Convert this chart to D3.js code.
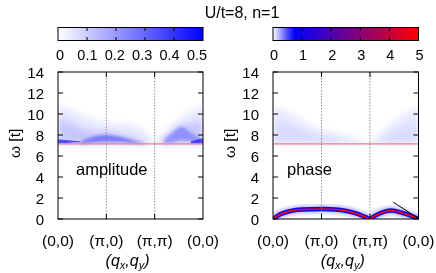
<!DOCTYPE html>
<html>
<head>
<meta charset="utf-8">
<script src="https://cdn.jsdelivr.net/npm/d3@7"></script>
<style>
  body { margin: 0; background: #fff; }
  text { font-family: "Liberation Sans", Arial, sans-serif; }
</style>
</head>
<body>
<div id="chart"></div>
<script>
// ---- data ----
const qTicks = [0, 1, 2, 3];
const qLabels = ["(0,0)", "(π,0)", "(π,π)", "(0,0)"];
const omegaTicks = [0, 2, 4, 6, 8, 10, 12, 14];
const gapOmega = 7.15;
const ampTicks = [0, 0.1, 0.2, 0.3, 0.4, 0.5];
const phaseTicks = [0, 1, 2, 3, 4, 5];

// amplitude spectral weight, as bands [q, omegaLow, omegaHigh]
const ampHaze = [[0, 7.15, 10.8], [0.3, 7.15, 10.4], [0.6, 7.15, 9.7], [1, 7.15, 9.2], [1.3, 7.15, 9.1],
  [1.6, 7.15, 8.9], [1.85, 7.15, 8.1], [2, 7.15, 7.2], [2.15, 7.15, 8.0], [2.4, 7.15, 9.1], [2.7, 7.15, 10.2], [3, 7.15, 10.8]];
const ampMid = [[0, 7.15, 9.6], [0.3, 7.15, 9.1], [0.6, 7.15, 8.5], [1, 7.15, 8.3], [1.4, 7.15, 8.0],
  [1.8, 7.15, 7.4], [2, 7.15, 7.15], [2.2, 7.15, 7.8], [2.5, 7.15, 8.8], [2.8, 7.15, 9.2], [3, 7.15, 9.5]];
const ampLobeLeft = [[0.45, 7.15, 7.35], [0.7, 7.25, 7.8], [1.0, 7.35, 8.0], [1.3, 7.3, 7.8], [1.6, 7.2, 7.45], [1.8, 7.15, 7.22]];
const ampStreakLeft = [[0, 7.2, 7.6], [0.2, 7.25, 7.5], [0.45, 7.3, 7.4]];
const ampLobeRight = [[2.2, 7.15, 7.5], [2.4, 7.3, 8.4], [2.55, 7.5, 8.8], [2.75, 7.4, 8.2], [2.95, 7.2, 7.7]];
const ampStreakRight = [[2.75, 7.2, 7.4], [2.9, 7.2, 7.6], [3, 7.2, 7.7]];
const ampValues = { haze: 0.045, mid: 0.07, lobeLeft: 0.2, streakLeft: 0.32, lobeRight: 0.14, streakRight: 0.3 };

// phase spectral weight
const phaseHaze = [[0, 7.15, 10.7], [0.3, 7.15, 10.2], [0.6, 7.15, 9.4], [1, 7.15, 8.5], [1.3, 7.15, 8.2],
  [1.6, 7.15, 7.9], [2, 7.15, 7.3], [2.3, 7.15, 8.6], [2.6, 7.15, 9.7], [3, 7.15, 10.7]];
const phaseMid = [[0, 7.15, 9.4], [0.4, 7.15, 8.9], [0.8, 7.15, 8.2], [1.2, 7.15, 7.7], [2, 7.15, 7.15],
  [2.5, 7.15, 8.4], [3, 7.15, 9.3]];
const phaseValues = { haze: 0.06, mid: 0.04, halo: 0.15, core: 0.9, mode: 5 };
// low energy (Goldstone) mode [q, omega]
const phaseMode = [[0, 0.0], [0.15, 0.45], [0.35, 0.75], [0.6, 0.9], [1.0, 0.95], [1.4, 0.85], [1.7, 0.55],
  [1.9, 0.2], [2.0, 0.02], [2.1, 0.3], [2.3, 0.7], [2.45, 0.8], [2.65, 0.6], [2.85, 0.3], [3.0, 0.0]];
const phaseSlope = [[2.48, 1.6], [3.0, 0.05]];

// ---- layout ----
const W = 436, H = 273;
const plotTop = 72, plotBottom = 219;
const panels = [
  { left: 58, right: 203, name: "amplitude", ticks: ampTicks,
    color: d3.scaleLinear().domain([0, 0.5]).range(["#ffffff", "#0000ff"]) },
  { left: 273, right: 418.5, name: "phase", ticks: phaseTicks,
    color: d3.scaleLinear().domain([0, 0.7, 5]).range(["#ffffff", "#0000ff", "#ff0000"]) }
];

const svg = d3.select("#chart").append("svg")
  .attr("width", W).attr("height", H);
const defs = svg.append("defs");
[["blurL", 3], ["blur", 1.5], ["blurS", 0.7]].forEach(([id, s]) => {
  defs.append("filter").attr("id", id).attr("x", "-20%").attr("y", "-50%").attr("width", "140%").attr("height", "200%")
    .append("feGaussianBlur").attr("stdDeviation", s);
});

svg.append("text").attr("x", 242).attr("y", 18).attr("text-anchor", "middle")
  .attr("font-size", 16).text("U/t=8, n=1");

const y = d3.scaleLinear().domain([0, 14]).range([plotBottom, plotTop]);

panels.forEach((p, i) => {
  const x = d3.scaleLinear().domain([0, 3]).range([p.left, p.right]);
  const g = svg.append("g");

  // colorbar
  const cb = d3.scaleLinear().domain(d3.extent(p.ticks)).range([p.left, p.right]);
  const gid = "grad" + i;
  const grad = defs.append("linearGradient").attr("id", gid);
  d3.range(0, 1.0001, 0.05).forEach(t => {
    const v = cb.domain()[0] + t * (cb.domain()[1] - cb.domain()[0]);
    grad.append("stop").attr("offset", t).attr("stop-color", p.color(v));
  });
  g.append("rect").attr("x", p.left).attr("y", 27.5).attr("width", p.right - p.left).attr("height", 13)
    .attr("fill", `url(#${gid})`).attr("stroke", "#000").attr("stroke-width", 1);
  p.ticks.slice(1, -1).forEach(t => {
    g.append("line").attr("x1", cb(t)).attr("x2", cb(t)).attr("y1", 27.5).attr("y2", 31).attr("stroke", "#000");
    g.append("line").attr("x1", cb(t)).attr("x2", cb(t)).attr("y1", 37).attr("y2", 40.5).attr("stroke", "#000");
  });
  g.selectAll(".cbl").data(p.ticks).join("text")
    .attr("x", d => cb(d) + (i === 0 ? 2 - 8 * (d / 0.5) : 1)).attr("y", 60)
    .attr("text-anchor", "middle").attr("font-size", 14.5).text(d => d);

  // spectral weight
  const clipId = "clip" + i;
  defs.append("clipPath").attr("id", clipId).append("rect")
    .attr("x", p.left).attr("y", plotTop).attr("width", p.right - p.left).attr("height", plotBottom - plotTop);
  const heat = g.append("g").attr("clip-path", `url(#${clipId})`);
  const area = d3.area().curve(d3.curveMonotoneX)
    .x(d => x(d[0])).y0(d => y(d[1])).y1(d => y(d[2]));
  const bands = i === 0
    ? [[ampHaze, ampValues.haze, "blurL"], [ampMid, ampValues.mid, "blurL"], [ampLobeRight, ampValues.lobeRight, "blur"],
       [ampLobeLeft, ampValues.lobeLeft, "blur"], [ampStreakLeft, ampValues.streakLeft, "blurS"], [ampStreakRight, ampValues.streakRight, "blurS"]]
    : [[phaseHaze, phaseValues.haze, "blurL"], [phaseMid, phaseValues.mid, "blurL"]];
  bands.forEach(([pts, v, f]) => {
    heat.append("path").attr("d", area(pts)).attr("fill", p.color(v))
      .attr("filter", `url(#${f})`).style("mix-blend-mode", "multiply");
  });

  if (i === 1) {
    const line = d3.line().curve(d3.curveMonotoneX).x(d => x(d[0])).y(d => y(d[1]));
    const modeG = g.append("g").attr("clip-path", `url(#${clipId})`);
    modeG.append("path").attr("d", line(phaseMode)).attr("fill", "none")
      .attr("stroke", p.color(phaseValues.halo)).attr("stroke-width", 9).attr("filter", "url(#blur)");
    modeG.append("path").attr("d", line(phaseMode)).attr("fill", "none")
      .attr("stroke", p.color(phaseValues.core)).attr("stroke-width", 4.5).attr("filter", "url(#blurS)");
    modeG.append("path").attr("d", line(phaseMode)).attr("fill", "none")
      .attr("stroke", p.color(phaseValues.mode)).attr("stroke-width", 1.6);
    modeG.append("path").attr("d", line(phaseSlope)).attr("fill", "none")
      .attr("stroke", "#000").attr("stroke-width", 1);
  }

  // gap line
  g.append("line").attr("x1", p.left).attr("x2", p.right).attr("y1", y(gapOmega)).attr("y2", y(gapOmega))
    .attr("stroke", "#f08080").attr("stroke-width", 1.2);

  // dotted separators
  qTicks.slice(1, -1).forEach(q => {
    g.append("line").attr("x1", x(q)).attr("x2", x(q)).attr("y1", plotTop).attr("y2", plotBottom)
      .attr("stroke", "#777").attr("stroke-width", 0.8).attr("stroke-dasharray", "1.5,1.5");
    g.append("line").attr("x1", x(q)).attr("x2", x(q)).attr("y1", plotTop).attr("y2", plotTop + 5).attr("stroke", "#000");
    g.append("line").attr("x1", x(q)).attr("x2", x(q)).attr("y1", plotBottom).attr("y2", plotBottom - 5).attr("stroke", "#000");
  });

  // y ticks
  omegaTicks.forEach(w => {
    g.append("line").attr("x1", p.left).attr("x2", p.left + 5).attr("y1", y(w)).attr("y2", y(w)).attr("stroke", "#000");
    g.append("line").attr("x1", p.right).attr("x2", p.right - 5).attr("y1", y(w)).attr("y2", y(w)).attr("stroke", "#000");
  });
  g.selectAll(".yl").data(omegaTicks).join("text")
    .attr("x", p.left - 14).attr("y", d => y(d) + 5.5).attr("text-anchor", "end")
    .attr("font-size", 15).text(d => d);

  // frame
  g.append("rect").attr("x", p.left).attr("y", plotTop).attr("width", p.right - p.left).attr("height", plotBottom - plotTop)
    .attr("fill", "none").attr("stroke", "#000").attr("stroke-width", 1);

  // x labels
  g.selectAll(".xl").data(qTicks).join("text")
    .attr("x", d => x(d)).attr("y", 246).attr("text-anchor", "middle")
    .attr("font-size", 15.5).text((d, k) => qLabels[k]);

  const xt = g.append("text").attr("x", (p.left + p.right) / 2 - 3).attr("y", 266)
    .attr("text-anchor", "middle").attr("font-size", 16).attr("font-style", "italic");
  xt.append("tspan").text("(q");
  xt.append("tspan").attr("font-size", 11).attr("dy", 3).text("x");
  xt.append("tspan").attr("dy", -3).text(",q");
  xt.append("tspan").attr("font-size", 11).attr("dy", 3).text("y");
  xt.append("tspan").attr("dy", -3).text(")");

  // y title
  g.append("text").attr("transform", `translate(${p.left - 38},${y(7.2)}) rotate(-90)`)
    .attr("text-anchor", "middle").attr("font-size", 15.5).text("ω [t]");

  // panel name
  g.append("text").attr("x", i === 0 ? 76 : 287).attr("y", 175)
    .attr("font-size", 16.5).text(p.name);
});
</script>
</body>
</html>
